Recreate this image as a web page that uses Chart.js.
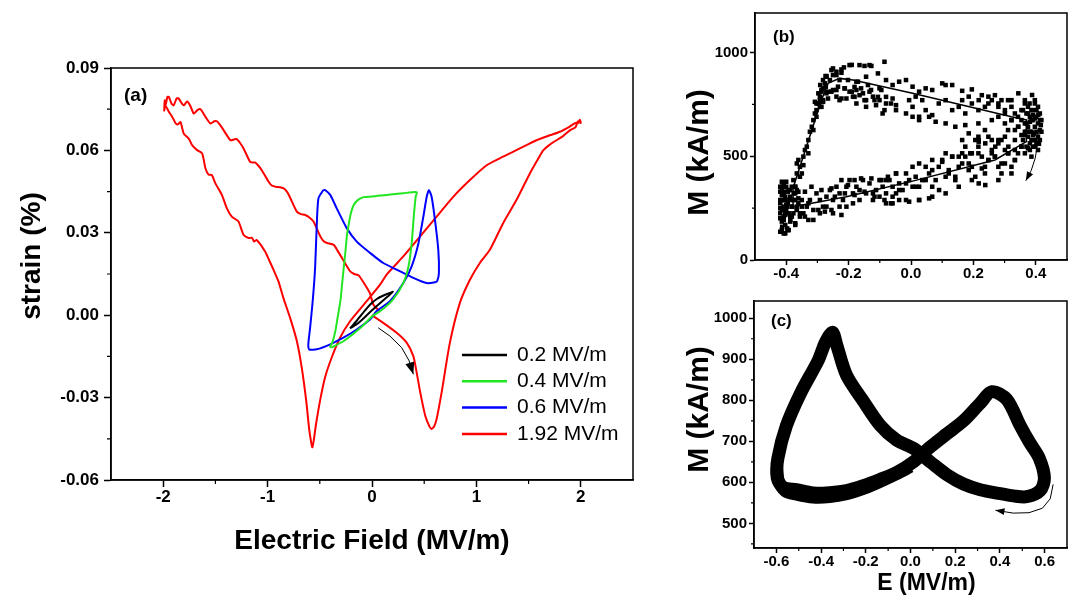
<!DOCTYPE html>
<html>
<head>
<meta charset="utf-8">
<script src="https://cdn.jsdelivr.net/npm/chart.js@4/dist/chart.umd.min.js"></script>
<style>
  html, body { margin: 0; padding: 0; background: #fff; }
  #wrap { position: relative; width: 1072px; height: 602px; overflow: hidden; }
  canvas { position: absolute; }
</style>
</head>
<body>
<div id="wrap">
  <canvas id="chartA" width="645" height="602" style="left:0;top:0;width:645px;height:602px"></canvas>
  <canvas id="chartB" width="392" height="290" style="left:680px;top:0;width:392px;height:290px"></canvas>
  <canvas id="chartC" width="392" height="312" style="left:680px;top:290px;width:392px;height:312px"></canvas>
</div>
<script>
// ---- (a) strain vs electric field ----
const fieldTicksA = [-2, -1, 0, 1, 2];
const fieldMinorA = [-1.5, -0.5, 0.5, 1.5];
const strainTicksA = [-0.06, -0.03, 0, 0.03, 0.06, 0.09];
const strainMinorA = [-0.045, -0.015, 0.015, 0.045, 0.075];
const amplitudesA = ['0.2 MV/m', '0.4 MV/m', '0.6 MV/m', '1.92 MV/m'];
const colorsA = ['#000000', '#22e622', '#0000ff', '#ff0000'];

const loop02 = [
  [-0.21, -0.0048], [-0.15, -0.0022], [-0.1, 0.0002], [-0.05, 0.0025], [0, 0.0045],
  [0.05, 0.006], [0.1, 0.007], [0.15, 0.0078], [0.2, 0.0085], [0.15, 0.0068],
  [0.1, 0.0052], [0.05, 0.0035], [0, 0.0018], [-0.05, 0], [-0.1, -0.0018],
  [-0.15, -0.0034], [-0.21, -0.0048]
];
const loop04 = [
  [-0.39, -0.0118], [-0.27, -0.0094], [-0.11, -0.0046], [0, -0.0005], [0.08, 0.0015],
  [0.2, 0.0057], [0.3, 0.0117], [0.35, 0.0178], [0.38, 0.0262], [0.4, 0.0359],
  [0.418, 0.0431], [0.428, 0.0448], [0.3, 0.0444], [0.14, 0.0438], [0, 0.0432],
  [-0.08, 0.043], [-0.14, 0.0418], [-0.176, 0.04], [-0.2, 0.0375], [-0.214, 0.035],
  [-0.239, 0.0293], [-0.255, 0.023], [-0.271, 0.0172], [-0.29, 0.01], [-0.303, 0.0051],
  [-0.33, -0.001], [-0.351, -0.0058], [-0.38, -0.01], [-0.4, -0.0115], [-0.39, -0.0118]
];
const loop06 = [
  [-0.466, 0.0456], [-0.513, 0.0426], [-0.529, 0.0329], [-0.545, 0.0172], [-0.568, 0.0051],
  [-0.593, -0.0046], [-0.61, -0.0106], [-0.6, -0.0125], [-0.529, -0.0124], [-0.4, -0.0106],
  [-0.274, -0.0082], [-0.146, -0.0052], [-0.019, -0.0016], [0.045, 0.0015], [0.172, 0.0051],
  [0.3, 0.0117], [0.38, 0.0178], [0.445, 0.0262], [0.492, 0.0359], [0.524, 0.0431],
  [0.545, 0.0456], [0.571, 0.0431], [0.603, 0.0347], [0.635, 0.0238], [0.641, 0.0154],
  [0.625, 0.0125], [0.603, 0.012], [0.524, 0.0117], [0.396, 0.0136], [0.236, 0.0166],
  [0.108, 0.019], [-0.016, 0.0226], [-0.146, 0.0268], [-0.242, 0.0317], [-0.338, 0.0389],
  [-0.4, 0.0438], [-0.45, 0.0456], [-0.466, 0.0456]
];
const loop192 = [
  // first rise from zero field
  [0, 0], [0.108, -0.0028], [0.236, -0.0064], [0.332, -0.01], [0.396, -0.0149],
  [0.428, -0.0209], [0.462, -0.0281], [0.51, -0.0366], [0.55, -0.0405], [0.571, -0.0414],
  [0.595, -0.0405], [0.619, -0.0378], [0.667, -0.0281], [0.746, -0.01], [0.842, 0.0045],
  [0.938, 0.0129], [1.033, 0.019], [1.129, 0.0238], [1.256, 0.0335], [1.385, 0.042],
  [1.512, 0.0516], [1.6, 0.0575], [1.64, 0.06], [1.7, 0.062], [1.767, 0.0637],
  [1.83, 0.0652], [1.895, 0.0673], [1.95, 0.0685], [1.97, 0.0705], [2.0, 0.07],
  [1.99, 0.0712], [1.97, 0.0698],
  // field decreasing
  [1.95, 0.07], [1.89, 0.0686], [1.8, 0.0668], [1.703, 0.0655], [1.576, 0.0637],
  [1.416, 0.0607], [1.256, 0.0577], [1.098, 0.0546], [0.938, 0.0492], [0.778, 0.0431],
  [0.619, 0.0359], [0.459, 0.0286], [0.3, 0.0214], [0.14, 0.0148], [0.077, 0.0111],
  [-0.051, 0.0051], [-0.21, -0.0022], [-0.306, -0.0082], [-0.386, -0.0154], [-0.45, -0.0227],
  [-0.498, -0.0312], [-0.536, -0.0396], [-0.571, -0.0481],
  [-0.6, -0.042], [-0.63, -0.0312], [-0.673, -0.0191], [-0.72, -0.0094], [-0.785, -0.0009],
  [-0.849, 0.0063], [-0.896, 0.0123], [-0.944, 0.0166], [-0.985, 0.02], [-1.024, 0.0232],
  [-1.104, 0.0274], [-1.13, 0.0268], [-1.15, 0.0282], [-1.183, 0.0281], [-1.231, 0.0293],
  [-1.279, 0.0341], [-1.343, 0.0359], [-1.39, 0.0389], [-1.438, 0.0438], [-1.5, 0.048],
  [-1.534, 0.051], [-1.565, 0.0512], [-1.595, 0.0534], [-1.627, 0.0589], [-1.675, 0.0601],
  [-1.723, 0.0619], [-1.755, 0.0643], [-1.803, 0.0661], [-1.834, 0.0703], [-1.86, 0.0695],
  [-1.88, 0.0698], [-1.913, 0.0722], [-1.945, 0.074], [-1.98, 0.0764], [-1.99, 0.0745],
  [-1.985, 0.0782], [-1.975, 0.0768],
  // field increasing back to zero
  [-1.96, 0.0795], [-1.945, 0.0794], [-1.92, 0.077], [-1.9, 0.0764], [-1.87, 0.079],
  [-1.85, 0.0788], [-1.82, 0.077], [-1.803, 0.0764], [-1.77, 0.0778], [-1.74, 0.0762],
  [-1.707, 0.0734], [-1.675, 0.0746], [-1.643, 0.075], [-1.62, 0.0738], [-1.595, 0.0722],
  [-1.548, 0.0698], [-1.51, 0.0706], [-1.486, 0.0706], [-1.45, 0.069], [-1.42, 0.0673],
  [-1.356, 0.0637], [-1.32, 0.064], [-1.295, 0.0641], [-1.26, 0.0625], [-1.23, 0.0607],
  [-1.167, 0.0558], [-1.14, 0.0556], [-1.12, 0.0556], [-1.09, 0.0545], [-1.056, 0.0528],
  [-0.99, 0.0486], [-0.96, 0.0472], [-0.925, 0.0468], [-0.846, 0.0462], [-0.81, 0.0447],
  [-0.782, 0.0426], [-0.72, 0.0377], [-0.68, 0.0368], [-0.64, 0.0365], [-0.6, 0.0356],
  [-0.56, 0.0341], [-0.494, 0.0286], [-0.46, 0.0268], [-0.43, 0.0263], [-0.367, 0.0256],
  [-0.33, 0.0235], [-0.287, 0.0208], [-0.21, 0.016], [-0.17, 0.015], [-0.128, 0.0145],
  [-0.067, 0.0111], [-0.02, 0.008], [0.013, 0.0039], [0.07, 0.0015]
];
const sweepArrowA = [[0.06, -0.0046], [0.172, -0.0076], [0.284, -0.0118], [0.357, -0.0167], [0.396, -0.0215]];

// ---- (b) magnetisation, scattered points and fitted loop ----
const fieldTicksB = [-0.4, -0.2, 0, 0.2, 0.4];
const fieldMinorB = [-0.3, -0.1, 0.1, 0.3];
const magTicksB = [0, 500, 1000];
const magMinorB = [250, 750];
const pointsB = [
  // upper branch
  [-0.255, 915], [-0.239, 907], [-0.223, 918], [-0.197, 939], [-0.165, 939], [-0.133, 939],
  [-0.085, 955], [-0.106, 899], [-0.144, 883], [-0.175, 859], [-0.202, 867], [-0.229, 867],
  [-0.25, 891], [-0.271, 886], [-0.273, 835], [-0.266, 811], [-0.25, 819], [-0.234, 835],
  [-0.213, 827], [-0.197, 811], [-0.175, 819], [-0.154, 803], [-0.128, 819], [-0.101, 827],
  [-0.08, 867], [-0.059, 843], [-0.038, 859], [-0.016, 867], [0.005, 835], [0.026, 811],
  [0.047, 827], [0.068, 819], [0.1, 851], [0.111, 843], [0.132, 843], [0.164, 815],
  [0.195, 822], [-0.059, 778], [-0.08, 754], [-0.101, 770], [-0.122, 787], [-0.144, 770],
  [-0.165, 794], [-0.186, 787], [-0.207, 778], [-0.229, 770], [-0.239, 787], [-0.266, 778],
  [-0.282, 762], [-0.292, 770], [-0.303, 754], [-0.048, 722], [-0.016, 706], [0.005, 738],
  [0.026, 690], [0.047, 722], [0.068, 698], [0.089, 754], [0.111, 770], [0.132, 722],
  [0.153, 738], [0.174, 706], [0.195, 754], [0.216, 722], [0.237, 738], [0.259, 770],
  [0.28, 754], [0.301, 722], [0.311, 770], [0.322, 738], [0.333, 706], [0.343, 690],
  [0.354, 674], [0.111, 658], [0.142, 642], [0.174, 650], [0.216, 658], [0.237, 626],
  [0.259, 674], [0.28, 690], [0.301, 658], [0.311, 626], [0.322, 674], [0.333, 626],
  [0.343, 642], [0.005, 690], [0.026, 674], [0.058, 690], [0.079, 666], [-0.048, 746],
  [-0.112, 746], [-0.091, 706], [-0.144, 738], [-0.175, 754], [-0.006, 770], [0.015, 787],
  [0.036, 770], [0.164, 770], [0.185, 787], [0.227, 794], [0.248, 787], [0.269, 794],
  [0.29, 770], [0.322, 770],
  [-0.25, 923], [-0.215, 928], [-0.19, 940], [-0.149, 935], [-0.127, 935], [-0.239, 891],
  [-0.223, 902], [-0.274, 886], [-0.26, 867], [-0.291, 843], [-0.28, 827], [-0.297, 803],
  [-0.287, 811], [-0.255, 811], [-0.239, 819], [-0.212, 827], [-0.19, 811], [-0.181, 834],
  [-0.17, 859], [-0.16, 827], [-0.138, 843], [-0.133, 811], [-0.106, 786], [-0.095, 819],
  [-0.08, 786], [-0.064, 754], [-0.085, 722], [-0.117, 770], [-0.149, 770], [-0.181, 786],
  [-0.223, 778], [-0.308, 762], [-0.287, 738],
  // dense cluster at the positive field end
  [0.365, 754], [0.375, 738], [0.386, 722], [0.397, 754], [0.407, 738], [0.413, 706],
  [0.402, 690], [0.391, 674], [0.381, 690], [0.37, 706], [0.359, 722], [0.365, 658],
  [0.375, 642], [0.386, 618], [0.397, 642], [0.407, 658], [0.413, 626], [0.407, 594],
  [0.397, 578], [0.386, 578], [0.375, 594], [0.37, 546], [0.381, 530], [0.391, 546],
  [0.402, 562], [0.413, 578], [0.402, 618], [0.418, 674], [0.365, 618], [0.354, 602],
  [0.359, 578], [0.365, 514], [0.386, 498], [0.354, 546], [0.343, 514], [0.391, 698],
  [0.402, 722], [0.413, 674], [0.418, 618], [0.391, 602], [0.381, 562], [0.37, 618],
  [0.381, 666], [0.397, 546], [0.407, 530],
  [0.344, 803], [0.365, 770], [0.38, 754], [0.391, 722], [0.375, 706], [0.354, 722],
  [0.386, 674], [0.397, 682], [0.37, 658], [0.38, 618], [0.391, 578], [0.365, 602],
  [0.344, 642], [0.322, 674], [0.301, 706], [0.28, 738], [0.248, 754], [0.217, 770],
  [0.333, 578], [0.312, 546], [0.29, 578], [0.27, 546], [0.238, 562], [0.259, 514],
  [0.217, 570], [0.354, 546], [0.375, 538], [0.397, 770], [0.388, 795], [0.408, 700],
  [0.416, 650], [0.41, 560], [0.395, 610],
  // lower branch
  [0.333, 482], [0.322, 449], [0.311, 514], [0.301, 465], [0.29, 417], [0.28, 449],
  [0.269, 498], [0.259, 530], [0.248, 482], [0.237, 449], [0.227, 498], [0.216, 546],
  [0.206, 578], [0.195, 514], [0.185, 465], [0.174, 498], [0.164, 514], [0.153, 449],
  [0.142, 401], [0.132, 498], [0.121, 433], [0.111, 401], [0.1, 482], [0.089, 449],
  [0.079, 385], [0.068, 353], [0.058, 417], [0.047, 449], [0.036, 385], [0.026, 353],
  [0.015, 401], [0.005, 353], [-0.006, 385], [-0.016, 417], [-0.027, 337], [-0.038, 369],
  [-0.048, 321], [-0.059, 353], [-0.069, 385], [-0.08, 321], [-0.091, 353], [-0.101, 385],
  [-0.112, 337], [-0.122, 289], [-0.133, 369], [-0.144, 321], [-0.154, 385], [-0.165, 289],
  [-0.175, 353], [-0.186, 321], [-0.197, 385], [-0.207, 353], [-0.218, 289], [-0.229, 321],
  [-0.239, 353], [-0.25, 289], [-0.26, 337], [-0.271, 305], [-0.282, 257], [-0.292, 289],
  [-0.303, 321], [-0.313, 241], [-0.324, 289], [-0.334, 257], [-0.345, 225], [-0.356, 209],
  [-0.366, 241], [-0.377, 289], [-0.207, 257], [-0.186, 273], [-0.25, 225], [-0.292, 225],
  [-0.313, 193], [-0.271, 257], [-0.122, 321], [-0.08, 273], [-0.016, 289], [0.026, 289],
  [0.068, 305], [0.111, 321], [0.153, 353], [0.195, 385], [0.237, 417], [0.28, 385],
  [0.322, 417], [0.195, 449], [0.164, 578], [0.185, 610], [0.216, 594], [0.259, 578],
  [0.28, 578], [0.301, 530], [0.333, 530], [0.005, 449], [0.026, 465], [-0.048, 417],
  [0.068, 482], [0.111, 514], [0.132, 498], [0.174, 546], [0.216, 514], [-0.101, 305],
  [-0.059, 273], [-0.038, 289], [-0.165, 337], [-0.229, 257],
  [-0.223, 385], [-0.202, 361], [-0.181, 385], [-0.16, 393], [-0.127, 393], [-0.095, 385],
  [-0.074, 401], [-0.255, 345], [-0.287, 337], [-0.319, 353], [-0.34, 329], [-0.244, 305],
  [-0.212, 321], [-0.181, 313], [-0.149, 329], [-0.117, 305], [-0.085, 289], [-0.064, 273],
  [-0.329, 273], [-0.297, 241], [-0.276, 233], [-0.255, 241], [-0.223, 217], [-0.34, 209],
  [-0.329, 193], [-0.371, 177], [-0.361, 297], [-0.35, 257],
  [-0.08, 385], [-0.048, 417], [-0.016, 369], [0.015, 353], [0.047, 385], [0.068, 433],
  [0.1, 473], [0.121, 417], [0.142, 385], [0.164, 465], [0.185, 433], [0.206, 401],
  [0.227, 441], [0.248, 481], [0.269, 498], [0.29, 465], [0.312, 514], [0.333, 481],
  [0.217, 369], [0.238, 361], [0.026, 289], [-0.006, 281], [-0.059, 305], [0.058, 297],
  [0.09, 337], [-0.038, 337], [0.153, 498], [0.19, 514], [0.248, 594], [0.217, 578],
  [0.28, 562], [0.301, 594],
  // cluster at the negative field end
  [-0.419, 353], [-0.414, 337], [-0.408, 321], [-0.403, 305], [-0.4, 289], [-0.419, 273],
  [-0.408, 257], [-0.4, 241], [-0.419, 225], [-0.408, 209], [-0.414, 185], [-0.403, 169],
  [-0.414, 144], [-0.403, 128], [-0.395, 144], [-0.387, 209], [-0.382, 257], [-0.371, 321],
  [-0.387, 337], [-0.4, 353], [-0.408, 361], [-0.419, 329], [-0.419, 289], [-0.419, 249],
  [-0.419, 201], [-0.408, 289], [-0.4, 265], [-0.387, 289], [-0.366, 337], [-0.361, 273],
  [-0.377, 225], [-0.371, 169], [-0.387, 185], [-0.366, 257], [-0.35, 289], [-0.356, 225],
  [-0.387, 305], [-0.414, 313], [-0.403, 233], [-0.395, 329], [-0.382, 353], [-0.414, 377],
  [-0.4, 377], [-0.395, 273],
  [-0.413, 353], [-0.408, 321], [-0.403, 289], [-0.397, 257], [-0.392, 225], [-0.408, 193],
  [-0.413, 160], [-0.397, 152], [-0.387, 193], [-0.382, 257], [-0.376, 321], [-0.392, 337],
  [-0.403, 329], [-0.413, 289], [-0.413, 241], [-0.403, 217], [-0.371, 289], [-0.366, 249],
  [-0.382, 209], [-0.392, 144], [-0.408, 128], [-0.419, 136], [-0.371, 353], [-0.361, 329],
  // steep rising edge
  [-0.377, 385], [-0.366, 417], [-0.356, 449], [-0.361, 482], [-0.345, 498], [-0.34, 530],
  [-0.334, 546], [-0.329, 578], [-0.324, 618], [-0.318, 642], [-0.313, 674], [-0.308, 706],
  [-0.303, 722], [-0.297, 754], [-0.292, 787], [-0.287, 819], [-0.282, 827], [-0.276, 851],
  [-0.371, 353], [-0.35, 417], [-0.313, 626], [-0.303, 690], [-0.345, 457], [-0.356, 401],
  [-0.366, 465], [-0.329, 514], [-0.282, 770], [-0.292, 738], [-0.271, 803], [-0.282, 867],
  [-0.271, 883]
];
const fitB = [
  [-0.378, 257], [-0.378, 347], [-0.287, 770], [-0.266, 851], [-0.229, 875], [-0.186, 867],
  [0.005, 803], [0.322, 690], [0.37, 675], [0.37, 570], [0.269, 482], [0.005, 380],
  [-0.207, 305], [-0.378, 257]
];
const sweepArrowB = [[0.407, 618], [0.406, 560], [0.398, 490], [0.385, 430], [0.368, 382]];

// ---- (c) magnetisation figure-eight ----
const fieldTicksC = [-0.6, -0.4, -0.2, 0, 0.2, 0.4, 0.6];
const fieldMinorC = [-0.5, -0.3, -0.1, 0.1, 0.3, 0.5];
const magTicksC = [500, 600, 700, 800, 900, 1000];
const magMinorC = [450, 550, 650, 750, 850, 950];
const loopC = [
  [0.088, 650], [0.013, 683], [-0.062, 703], [-0.137, 740], [-0.211, 798], [-0.286, 861],
  [-0.33, 935], [-0.349, 966], [-0.38, 942], [-0.413, 897], [-0.492, 817], [-0.555, 738],
  [-0.593, 659], [-0.596, 611], [-0.57, 588], [-0.51, 582], [-0.436, 574], [-0.361, 575],
  [-0.286, 580], [-0.211, 592], [-0.137, 607], [-0.062, 624], [0.013, 650], [0.088, 686],
  [0.162, 718], [0.237, 750], [0.312, 793], [0.364, 821], [0.431, 802], [0.491, 738],
  [0.532, 698], [0.576, 659], [0.599, 611], [0.58, 580], [0.52, 565], [0.461, 567],
  [0.387, 574], [0.312, 582], [0.237, 596], [0.162, 619], [0.088, 650]
];
// later cycles drift lower along the left lobe's bottom
const loopCDrift = [
  [-0.598, 650], [-0.59, 605], [-0.56, 578], [-0.51, 570], [-0.436, 563], [-0.361, 564],
  [-0.286, 571], [-0.211, 584], [-0.137, 601], [-0.062, 620], [0.0, 638]
];
const sweepArrowC = [[0.638, 595], [0.625, 560], [0.59, 537], [0.53, 526], [0.46, 525], [0.38, 532]];

const FONT = '"Liberation Sans", Arial, Helvetica, sans-serif';
Chart.defaults.font.family = FONT;
Chart.defaults.color = '#000';
Chart.defaults.animation = false;

const toXY = pts => pts.map(([x, y]) => ({ x, y }));

function axis({ min, max, ticks, fmt, tickLen, pad, size, fit, title }) {
  return {
    type: 'linear', min, max,
    afterBuildTicks: s => { s.ticks = ticks.map(v => ({ value: v })); },
    afterFit: s => { if (s.isHorizontal()) s.height = fit; else s.width = fit; },
    ticks: { callback: v => fmt(v), font: { size, weight: 'bold' }, color: '#000', padding: pad, autoSkip: false, maxRotation: 0 },
    grid: { drawOnChartArea: false, drawTicks: true, tickLength: tickLen, tickColor: '#000', tickWidth: 1.5 },
    border: { display: true, color: '#000', width: 1.5 },
    title: title || { display: false }
  };
}

// box around the plot area plus short minor ticks
const framePlugin = {
  id: 'frame',
  afterDraw(chart, args, o) {
    const { ctx, chartArea: a, scales: { x, y } } = chart;
    ctx.save();
    ctx.strokeStyle = '#000';
    ctx.lineWidth = 1.5;
    ctx.strokeRect(a.left, a.top, a.right - a.left, a.bottom - a.top);
    ctx.lineWidth = 1.2;
    ctx.beginPath();
    (o.x || []).forEach(v => { const px = x.getPixelForValue(v); ctx.moveTo(px, a.bottom); ctx.lineTo(px, a.bottom + o.len); });
    (o.y || []).forEach(v => { const py = y.getPixelForValue(v); ctx.moveTo(a.left, py); ctx.lineTo(a.left - o.len, py); });
    ctx.stroke();
    ctx.restore();
  }
};

// thin curved arrows showing the sweep direction
const arrowPlugin = {
  id: 'sweepArrow',
  afterDatasetsDraw(chart, args, o) {
    if (!o.path) return;
    const { ctx, scales: { x, y } } = chart;
    const pts = o.path.map(([e, v]) => [x.getPixelForValue(e), y.getPixelForValue(v)]);
    ctx.save();
    ctx.strokeStyle = '#000';
    ctx.fillStyle = '#000';
    ctx.lineWidth = 1;
    ctx.beginPath();
    pts.forEach(([px, py], i) => (i ? ctx.lineTo(px, py) : ctx.moveTo(px, py)));
    ctx.stroke();
    const [ax, ay] = pts[pts.length - 2];
    const [bx, by] = pts[pts.length - 1];
    const ang = Math.atan2(by - ay, bx - ax);
    const len = o.head, half = o.head * 0.38;
    const cx = bx - len * Math.cos(ang), cy = by - len * Math.sin(ang);
    ctx.beginPath();
    ctx.moveTo(bx, by);
    ctx.lineTo(cx + half * Math.sin(ang), cy - half * Math.cos(ang));
    ctx.lineTo(cx - half * Math.sin(ang), cy + half * Math.cos(ang));
    ctx.closePath();
    ctx.fill();
    ctx.restore();
  }
};

// panel letter, rotated y title and (optionally) a shifted x title
const labelPlugin = {
  id: 'labels',
  afterDraw(chart, args, o) {
    const { ctx, chartArea: a } = chart;
    ctx.save();
    ctx.fillStyle = '#000';
    ctx.textBaseline = 'middle';
    ctx.font = `bold ${o.tagSize}px ${FONT}`;
    ctx.textAlign = 'left';
    ctx.fillText(o.tag, a.left + o.tagDx, a.top + o.tagDy);
    ctx.textAlign = 'center';
    if (o.xText) {
      ctx.font = `bold ${o.xSize}px ${FONT}`;
      ctx.fillText(o.xText, (a.left + a.right) / 2 + o.xDx, o.xY);
    }
    ctx.font = `bold ${o.ySize}px ${FONT}`;
    ctx.translate(o.yX, (a.top + a.bottom) / 2 + o.yDy);
    ctx.rotate(-Math.PI / 2);
    ctx.fillText(o.yText, 0, 0);
    ctx.restore();
  }
};

// legend drawn inside the plot of (a)
const legendPlugin = {
  id: 'innerLegend',
  afterDraw(chart, args, o) {
    if (!o.left) return;
    const { ctx, chartArea: a } = chart;
    ctx.save();
    ctx.font = `21px ${FONT}`;
    ctx.textBaseline = 'middle';
    ctx.textAlign = 'left';
    chart.data.datasets.forEach((ds, i) => {
      const yy = a.top + o.top + i * o.gap;
      ctx.strokeStyle = ds.borderColor;
      ctx.lineWidth = 2.5;
      ctx.beginPath();
      ctx.moveTo(a.left + o.left, yy);
      ctx.lineTo(a.left + o.left + 45, yy);
      ctx.stroke();
      ctx.fillStyle = '#000';
      ctx.fillText(ds.label, a.left + o.left + 55, yy);
    });
    ctx.restore();
  }
};

const plugins = [framePlugin, arrowPlugin, labelPlugin, legendPlugin];

new Chart(document.getElementById('chartA'), {
  type: 'scatter',
  data: {
    datasets: [loop02, loop04, loop06, loop192].map((pts, i) => ({
      label: amplitudesA[i],
      data: toXY(pts),
      showLine: true,
      pointRadius: 0,
      borderColor: colorsA[i],
      borderWidth: 2,
      tension: 0.2
    }))
  },
  options: {
    responsive: false,
    devicePixelRatio: 1,
    layout: { padding: { top: 68, right: 12, bottom: 0, left: 0 } },
    plugins: {
      legend: { display: false },
      tooltip: { enabled: false },
      frame: { x: fieldMinorA, y: strainMinorA, len: 4 },
      sweepArrow: { path: sweepArrowA, head: 12 },
      labels: { tag: '(a)', tagSize: 19, tagDx: 13, tagDy: 28, yText: 'strain (%)', ySize: 28, yX: 32, yDy: -18 },
      innerLegend: { left: 351, top: 287, gap: 26.3 }
    },
    scales: {
      x: axis({
        min: -2.5, max: 2.5, ticks: fieldTicksA, fmt: v => String(v), tickLen: 7, pad: 0, size: 17, fit: 122,
        title: { display: true, text: 'Electric Field (MV/m)', font: { size: 28, weight: 'bold' }, color: '#000', padding: { top: 0, bottom: 44 } }
      }),
      y: axis({ min: -0.06, max: 0.09, ticks: strainTicksA, fmt: v => v.toFixed(2), tickLen: 7, pad: 5, size: 17, fit: 111 })
    }
  },
  plugins
});

new Chart(document.getElementById('chartB'), {
  type: 'scatter',
  data: {
    datasets: [
      { data: toXY(fitB), showLine: true, pointRadius: 0, borderColor: '#000', borderWidth: 1.5, tension: 0 },
      { data: toXY(pointsB), pointStyle: 'rect', pointRadius: 3.2, backgroundColor: '#000', borderWidth: 0 }
    ]
  },
  options: {
    responsive: false,
    devicePixelRatio: 1,
    layout: { padding: { top: 13, right: 5, bottom: 0, left: 0 } },
    plugins: {
      legend: { display: false },
      tooltip: { enabled: false },
      frame: { x: fieldMinorB, y: magMinorB, len: 3 },
      sweepArrow: { path: sweepArrowB, head: 9 },
      labels: { tag: '(b)', tagSize: 17, tagDx: 18, tagDy: 24, yText: 'M (kA/m)', ySize: 30, yX: 20, yDy: 16 }
    },
    scales: {
      x: axis({ min: -0.5, max: 0.5, ticks: fieldTicksB, fmt: v => v.toFixed(1), tickLen: 5, pad: 0, size: 15, fit: 30 }),
      y: axis({ min: 0, max: 1190, ticks: magTicksB, fmt: v => String(v), tickLen: 5, pad: 2, size: 15, fit: 75 })
    }
  },
  plugins
});

new Chart(document.getElementById('chartC'), {
  type: 'scatter',
  data: {
    datasets: [
      { data: toXY(loopC), showLine: true, pointRadius: 0, borderColor: '#000', borderWidth: 13, borderJoinStyle: 'round', tension: 0.3 },
      { data: toXY(loopCDrift), showLine: true, pointRadius: 0, borderColor: '#000', borderWidth: 12, borderJoinStyle: 'round', borderCapStyle: 'butt', tension: 0.3 }
    ]
  },
  options: {
    responsive: false,
    devicePixelRatio: 1,
    layout: { padding: { top: 5, right: 5, bottom: 0, left: 0 } },
    plugins: {
      legend: { display: false },
      tooltip: { enabled: false },
      frame: { x: fieldMinorC, y: magMinorC, len: 3 },
      sweepArrow: { path: sweepArrowC, head: 9 },
      labels: {
        tag: '(c)', tagSize: 17, tagDx: 17, tagDy: 20,
        yText: 'M (kA/m)', ySize: 30, yX: 20, yDy: -15,
        xText: 'E (MV/m)', xSize: 23, xDx: 16, xY: 294
      }
    },
    scales: {
      x: axis({ min: -0.7, max: 0.7, ticks: fieldTicksC, fmt: v => v.toFixed(1), tickLen: 5, pad: 0, size: 15, fit: 54 }),
      y: axis({ min: 440, max: 1042, ticks: magTicksC, fmt: v => String(v), tickLen: 5, pad: 2, size: 15, fit: 74 })
    }
  },
  plugins
});
</script>
</body>
</html>
